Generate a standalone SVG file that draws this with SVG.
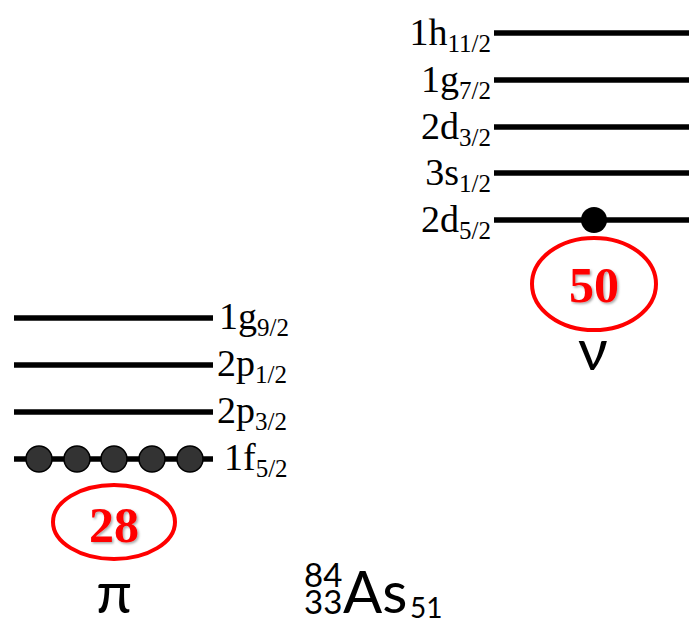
<svg xmlns="http://www.w3.org/2000/svg" width="689" height="624" viewBox="0 0 689 624">
<defs>
<style>
.lvl{stroke:#000;stroke-width:5.5;fill:none}
.lab{font-family:"Liberation Serif","Times New Roman",serif;font-size:38px;fill:#000}
.sub{font-size:25px}
.magic{font-family:"Liberation Serif","Times New Roman",serif;font-size:50px;font-weight:bold;fill:#f00;text-anchor:middle}
.ring{fill:none;stroke:#f00;stroke-width:4}
.sans{font-family:Lato,"Open Sans","DejaVu Sans",sans-serif;fill:#000}
.pdot{fill:#333;stroke:#000;stroke-width:1.5}
</style>
<filter id="sh" x="-20%" y="-20%" width="140%" height="140%">
<feDropShadow dx="1.5" dy="1.5" stdDeviation="1.2" flood-color="#000" flood-opacity="0.35"/>
</filter>
</defs>
<g id="connectors">
<line class="lvl" x1="14" y1="318" x2="213" y2="318"/>
<line class="lvl" x1="14" y1="365" x2="213" y2="365"/>
<line class="lvl" x1="14" y1="412" x2="213" y2="412"/>
<line class="lvl" x1="14" y1="459" x2="213" y2="459"/>
<line class="lvl" x1="494" y1="33" x2="689" y2="33"/>
<line class="lvl" x1="494" y1="80" x2="689" y2="80"/>
<line class="lvl" x1="494" y1="127" x2="689" y2="127"/>
<line class="lvl" x1="494" y1="173" x2="689" y2="173"/>
<line class="lvl" x1="494" y1="220" x2="689" y2="220"/>
</g>
<g id="proton-labels">
<text class="lab" x="219" y="329">1g<tspan class="sub" dy="7">9/2</tspan></text>
<text class="lab" x="217" y="376">2p<tspan class="sub" dy="7">1/2</tspan></text>
<text class="lab" x="217" y="423">2p<tspan class="sub" dy="7">3/2</tspan></text>
<text class="lab" x="224" y="470">1f<tspan class="sub" dy="7">5/2</tspan></text>
</g>
<g id="proton-dots">
<circle class="pdot" cx="39" cy="459" r="13"/>
<circle class="pdot" cx="77" cy="459" r="13"/>
<circle class="pdot" cx="114" cy="459" r="13"/>
<circle class="pdot" cx="152" cy="459" r="13"/>
<circle class="pdot" cx="190" cy="459" r="13"/>
</g>
<g id="proton-magic">
<ellipse class="ring" cx="114" cy="522" rx="61" ry="37"/>
<text class="magic" x="114" y="542" filter="url(#sh)">28</text>
</g>
<g id="pi">
<text class="sans" x="114" y="613" font-size="58" text-anchor="middle">π</text>
</g>
<g id="neutron-labels">
<text class="lab" x="491" y="45" text-anchor="end">1h<tspan class="sub" dy="7">11/2</tspan></text>
<text class="lab" x="491" y="92" text-anchor="end">1g<tspan class="sub" dy="7">7/2</tspan></text>
<text class="lab" x="491" y="139" text-anchor="end">2d<tspan class="sub" dy="7">3/2</tspan></text>
<text class="lab" x="491" y="185" text-anchor="end">3s<tspan class="sub" dy="7">1/2</tspan></text>
<text class="lab" x="491" y="232" text-anchor="end">2d<tspan class="sub" dy="7">5/2</tspan></text>
</g>
<g id="neutron-dot">
<circle cx="594" cy="220" r="13" fill="#000"/>
</g>
<g id="neutron-magic">
<ellipse class="ring" cx="594" cy="284" rx="62" ry="46"/>
<text class="magic" x="594" y="302" filter="url(#sh)">50</text>
</g>
<g id="nu">
<text class="sans" x="593" y="370" font-size="58" text-anchor="middle">ν</text>
</g>
<g id="nucleus">
<text class="sans" x="304" y="587" font-size="33">84</text>
<text class="sans" x="304" y="614" font-size="33">33</text>
<text class="sans" x="343" y="613" font-size="58">As</text>
<text class="sans" x="410" y="618" font-size="28">51</text>
</g>
</svg>
